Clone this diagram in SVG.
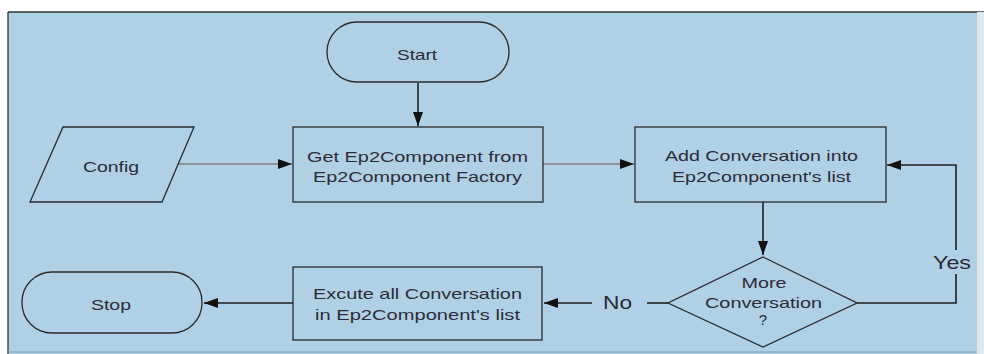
<svg xmlns="http://www.w3.org/2000/svg" width="984" height="354" viewBox="0 0 984 354">
  <style>
    .shape { fill: none; stroke: #2a2a2a; stroke-width: 1.3; }
    .edge { fill: none; stroke: #1e1e1e; stroke-width: 1.6; }
    .edge.soft { stroke: #808080; }
    .lbl { font-family: "Liberation Sans", Arial, sans-serif; font-size: 15px; fill: #2c2c38; text-anchor: middle; }
    .big { font-family: "Liberation Sans", Arial, sans-serif; font-size: 19px; fill: #2a2a34; text-anchor: middle; }
  </style>
  <defs>
    <marker id="arrow" viewBox="0 0 10 10" refX="10" refY="5" markerWidth="8" markerHeight="8" markerUnits="userSpaceOnUse" orient="auto">
      <path d="M0,0 L10,5 L0,10 Z" fill="#111"/>
    </marker>
    <marker id="arrowWide" viewBox="0 0 10 10" refX="10" refY="5" markerWidth="14" markerHeight="10" markerUnits="userSpaceOnUse" orient="auto" preserveAspectRatio="none">
      <path d="M0,0 L10,5 L0,10 Z" fill="#111"/>
    </marker>
  </defs>

  <!-- page background -->
  <rect x="0" y="0" width="984" height="354" fill="#ffffff"/>
  <rect x="8" y="12" width="969" height="342" fill="#afd0e5"/>
  <line x1="8" y1="12" x2="984" y2="12" stroke="#333" stroke-width="1.3"/>
  <line x1="8" y1="12" x2="8" y2="354" stroke="#333" stroke-width="1.3"/>
  <line x1="8" y1="352" x2="977" y2="352" stroke="#8a9aa6" stroke-width="1"/>
  <rect x="977" y="12" width="7" height="342" fill="#dbe8f0"/>

  <!-- connectors -->
  <g id="connectors">
    <line class="edge" x1="418" y1="83" x2="418" y2="126" marker-end="url(#arrowWide)"/>
    <line class="edge soft" x1="178" y1="164" x2="292" y2="164" marker-end="url(#arrowWide)"/>
    <line class="edge soft" x1="543" y1="164" x2="634" y2="164" marker-end="url(#arrowWide)"/>
    <line class="edge" x1="763" y1="202" x2="763" y2="255" marker-end="url(#arrowWide)"/>
    <polyline class="edge" points="857,303 956,303 956,274"/>
    <polyline class="edge" points="956,250 956,165 887,165" marker-end="url(#arrowWide)"/>
    <line class="edge" x1="668" y1="303" x2="647" y2="303"/>
    <line class="edge" x1="592" y1="303" x2="544" y2="303" marker-end="url(#arrowWide)"/>
    <line class="edge" x1="293" y1="303" x2="204" y2="303" marker-end="url(#arrowWide)"/>
    <text class="big" x="617.5" y="309" textLength="29" lengthAdjust="spacingAndGlyphs">No</text>
    <text class="big" x="952" y="269" textLength="38" lengthAdjust="spacingAndGlyphs">Yes</text>
  </g>

  <g id="start">
    <rect class="shape" x="327" y="22" width="182" height="60" rx="30" ry="30"/>
    <text class="lbl" x="417" y="60" textLength="40" lengthAdjust="spacingAndGlyphs">Start</text>
  </g>

  <g id="config">
    <polygon class="shape" points="63,127 194,127 162,202 30,202"/>
    <text class="lbl" x="111" y="172" textLength="56" lengthAdjust="spacingAndGlyphs">Config</text>
  </g>

  <g id="get-component">
    <rect class="shape" x="293" y="127" width="250" height="75"/>
    <text class="lbl" x="417.5" y="162" textLength="221" lengthAdjust="spacingAndGlyphs">Get Ep2Component from</text>
    <text class="lbl" x="417.5" y="182" textLength="209" lengthAdjust="spacingAndGlyphs">Ep2Component Factory</text>
  </g>

  <g id="add-conversation">
    <rect class="shape" x="635" y="127" width="251" height="75"/>
    <text class="lbl" x="761.5" y="161" textLength="193" lengthAdjust="spacingAndGlyphs">Add Conversation into</text>
    <text class="lbl" x="761.5" y="182" textLength="179" lengthAdjust="spacingAndGlyphs">Ep2Component's list</text>
  </g>

  <g id="more-conversation">
    <polygon class="shape" points="763,257 857,303 763,347 668,303"/>
    <text class="lbl" x="764" y="288" textLength="45" lengthAdjust="spacingAndGlyphs">More</text>
    <text class="lbl" x="763.5" y="308" textLength="117" lengthAdjust="spacingAndGlyphs">Conversation</text>
    <text class="lbl" x="763" y="325">?</text>
  </g>

  <g id="execute">
    <rect class="shape" x="293" y="267" width="249" height="73"/>
    <text class="lbl" x="417.5" y="299" textLength="209" lengthAdjust="spacingAndGlyphs">Excute all Conversation</text>
    <text class="lbl" x="417.5" y="320" textLength="205" lengthAdjust="spacingAndGlyphs">in Ep2Component's list</text>
  </g>

  <g id="stop">
    <rect class="shape" x="22" y="272" width="180" height="61" rx="30" ry="30"/>
    <text class="lbl" x="111" y="310" textLength="40" lengthAdjust="spacingAndGlyphs">Stop</text>
  </g>
</svg>
